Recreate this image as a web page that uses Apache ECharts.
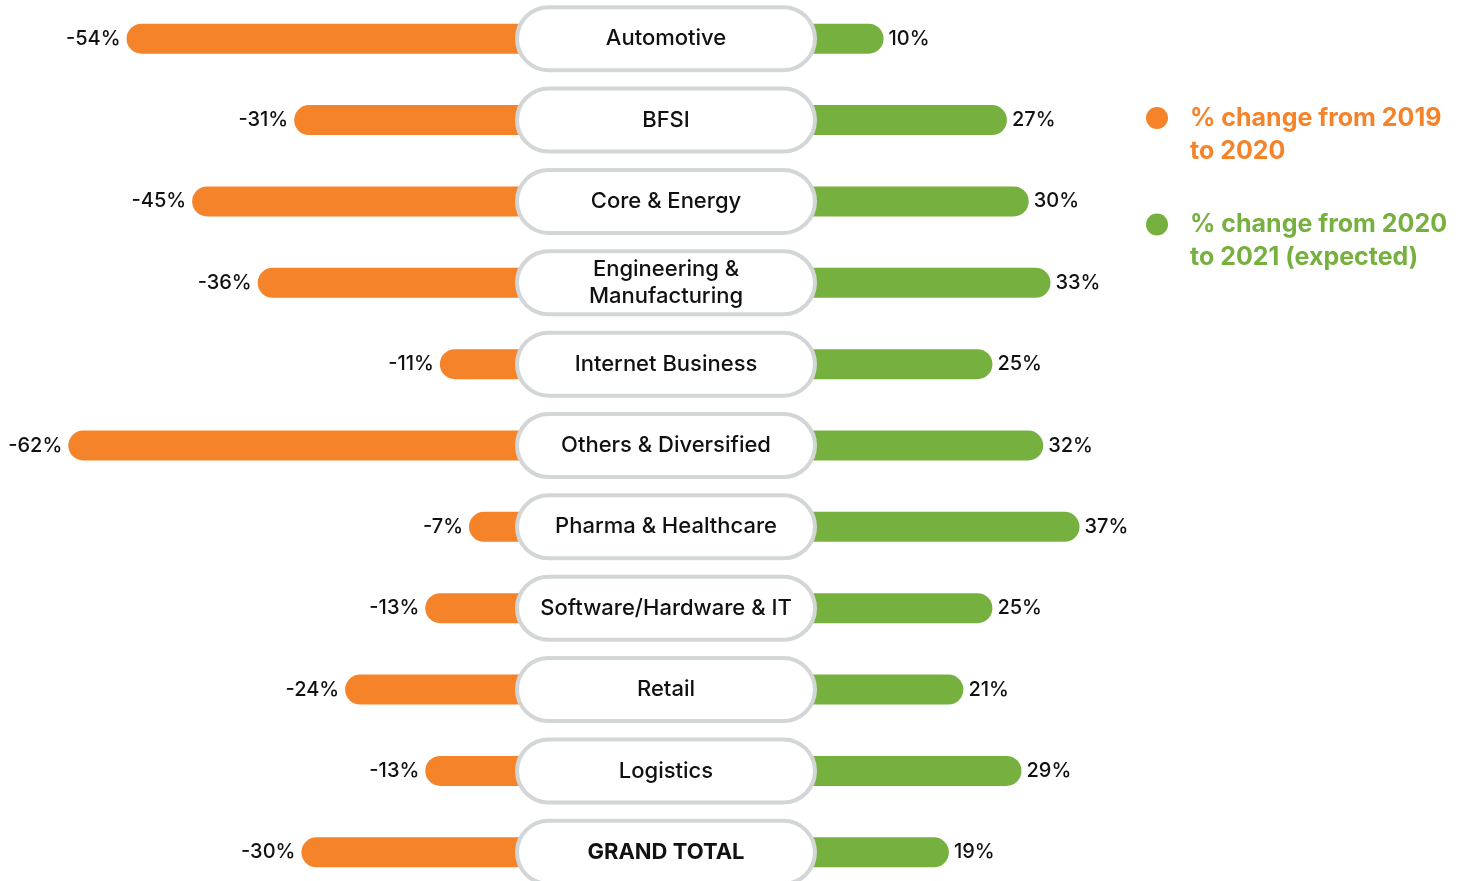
<!DOCTYPE html>
<html>
<head>
<meta charset="utf-8">
<title>Change by sector</title>
<script src="https://cdn.jsdelivr.net/npm/echarts@6/dist/echarts.min.js"></script>
<style>
  html, body { margin: 0; padding: 0; background: #fff; }
  #chart { width: 1468px; height: 881px; }
</style>
</head>
<body>
<div id="chart"></div>
<script>
const categories = ['Automotive', 'BFSI', 'Core & Energy', 'Engineering &\nManufacturing', 'Internet Business', 'Others & Diversified', 'Pharma & Healthcare', 'Software/Hardware & IT', 'Retail', 'Logistics', 'GRAND TOTAL']
const change2019to2020 = [-54, -31, -45, -36, -11, -62, -7, -13, -24, -13, -30]
const change2020to2021 = [10, 27, 30, 33, 25, 32, 37, 25, 21, 29, 19]
const seriesNames = ['% change from 2019 to 2020', '% change from 2020 to 2021 (expected)']
const legendLines = [['% change from 2019', 'to 2020'], ['% change from 2020', 'to 2021 (expected)']]

const orange = '#F5832A'
const green = '#76B13F'
const font = 'Inter'

let valueLabel = { show: true, formatter: '{c}%', fontFamily: font, fontSize: 20, fontWeight: 500, color: '#111' }

let option = {
  animation: false,
  legend: {
    orient: 'vertical',
    left: 1141,
    top: 74,
    itemWidth: 56,
    itemHeight: 22,
    itemGap: 22,
    icon: 'circle',
    selectedMode: false,
    data: [
      { name: seriesNames[0], textStyle: { color: orange } },
      { name: seriesNames[1], textStyle: { color: green } }
    ],
    formatter: function (name) {
      let lines = legendLines[seriesNames.indexOf(name)]
      return '{gap| }\n' + lines.map(s => '{t|' + s + '}').join('\n')
    },
    textStyle: {
      rich: {
        gap: { fontSize: 12, lineHeight: 33 },
        t: { fontFamily: font, fontSize: 25, fontWeight: 700, lineHeight: 33 }
      }
    }
  },
  grid: [
    { left: 10, width: 510, top: -2, height: 895, outerBoundsMode: 'none' },
    { left: 811, width: 508, top: -2, height: 895, outerBoundsMode: 'none' }
  ],
  xAxis: [
    { gridIndex: 0, type: 'value', min: -70, max: 0, show: false },
    { gridIndex: 1, type: 'value', min: 0, max: 70, show: false }
  ],
  yAxis: [
    { gridIndex: 0, type: 'category', data: categories, inverse: true, show: false },
    {
      gridIndex: 1,
      type: 'category',
      data: categories,
      inverse: true,
      z: 5,
      axisLine: { show: false },
      axisTick: { show: false },
      axisLabel: {
        interval: 0,
        margin: -2,
        width: 288,
        padding: [2, 3],
        backgroundColor: '#fff',
        borderColor: '#D3D6D7',
        borderWidth: 4,
        borderRadius: 32,
        formatter: function (value) {
          if (value === 'GRAND TOTAL') return '{total|' + value + '}'
          if (value.indexOf('\n') > -1) return value.split('\n').map(s => '{two|' + s + '}').join('\n')
          return '{one|' + value + '}'
        },
        rich: {
          one: { fontFamily: font, fontSize: 22, fontWeight: 500, color: '#111', lineHeight: 55, align: 'center' },
          two: { fontFamily: font, fontSize: 22, fontWeight: 500, color: '#111', lineHeight: 27.5, align: 'center' },
          total: { fontFamily: font, fontSize: 22, fontWeight: 700, color: '#111', lineHeight: 55, align: 'center' }
        }
      }
    }
  ],
  series: [
    {
      name: seriesNames[0],
      type: 'bar',
      xAxisIndex: 0,
      yAxisIndex: 0,
      data: change2019to2020,
      barWidth: 30,
      itemStyle: { color: orange, borderRadius: [15, 0, 0, 15] },
      label: Object.assign({ position: 'left', distance: 6 }, valueLabel)
    },
    {
      name: seriesNames[1],
      type: 'bar',
      xAxisIndex: 1,
      yAxisIndex: 1,
      data: change2020to2021,
      barWidth: 30,
      itemStyle: { color: green, borderRadius: [0, 15, 15, 0] },
      label: Object.assign({ position: 'right', distance: 5 }, valueLabel)
    }
  ]
}

let chart = echarts.init(document.getElementById('chart'))
chart.setOption(option)
</script>
</body>
</html>
